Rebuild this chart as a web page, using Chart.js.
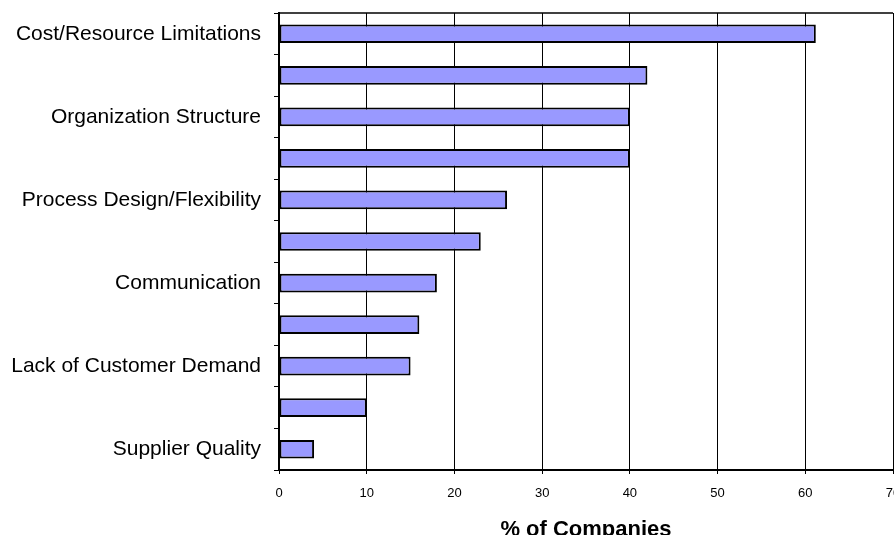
<!DOCTYPE html>
<html>
<head>
<meta charset="utf-8">
<script src="https://cdn.jsdelivr.net/npm/chart.js@4/dist/chart.umd.min.js"></script>
<style>
  html, body { margin: 0; padding: 0; overflow: hidden; background: #fff; }
  #wrap { position: relative; width: 920px; height: 560px; }
</style>
</head>
<body>
<div id="wrap"><canvas id="c"></canvas></div>
<script>
const categories = [
  'Cost/Resource Limitations', '',
  'Organization Structure', '',
  'Process Design/Flexibility', '',
  'Communication', '',
  'Lack of Customer Demand', '',
  'Supplier Quality'
];
const percentCompanies = [61.2, 42, 40, 40, 26, 23, 18, 16, 15, 10, 4];
const xTicks = [0, 10, 20, 30, 40, 50, 60, 70];
const xTitle = '% of Companies';

const topBorder = {
  id: 'topBorder',
  afterDatasetsDraw(chart) {
    const {ctx, chartArea} = chart;
    ctx.save();
    ctx.strokeStyle = '#000';
    ctx.lineWidth = 1.5;
    ctx.beginPath();
    ctx.moveTo(chartArea.left, chartArea.top);
    ctx.lineTo(chartArea.right, chartArea.top);
    ctx.stroke();
    ctx.restore();
  }
};

new Chart(document.getElementById('c'), {
  type: 'bar',
  data: {
    labels: categories,
    datasets: [{
      data: percentCompanies,
      backgroundColor: '#9999FF',
      borderColor: '#000000',
      borderWidth: 2,
      borderSkipped: false,
      categoryPercentage: 1,
      barPercentage: 0.45
    }]
  },
  options: {
    indexAxis: 'y',
    responsive: true,
    maintainAspectRatio: false,
    animation: false,
    layout: { padding: { top: 13, right: 27, bottom: 0, left: 0 } },
    plugins: { legend: { display: false }, tooltip: { enabled: false } },
    scales: {
      x: {
        type: 'linear',
        min: 0, max: 70,
        afterBuildTicks(scale) { scale.ticks = xTicks.map(v => ({ value: v })); },
        afterFit(scale) { scale.height = 90; },
        grid: { color: '#000', lineWidth: 1, tickLength: 4, drawTicks: true },
        border: { color: '#000', width: 2 },
        ticks: {
          color: '#000',
          padding: 12,
          font: { family: 'Liberation Sans, Arial, sans-serif', size: 13 }
        },
        title: {
          display: true,
          text: xTitle,
          color: '#000',
          padding: { top: 0, bottom: 17 },
          font: { family: 'Liberation Sans, Arial, sans-serif', size: 22, weight: 'bold' }
        }
      },
      y: {
        type: 'category',
        afterFit(scale) {
          scale.width = 279;
          scale.paddingTop = 0;
          scale.paddingBottom = 0;
        },
        grid: { drawOnChartArea: false, offset: true, tickLength: 5, color: '#000', lineWidth: 1 },
        border: { color: '#000', width: 2 },
        ticks: {
          color: '#000',
          padding: 13,
          autoSkip: false,
          font: { family: 'Liberation Sans, Arial, sans-serif', size: 21 }
        }
      }
    }
  },
  plugins: [topBorder]
});
</script>
</body>
</html>
